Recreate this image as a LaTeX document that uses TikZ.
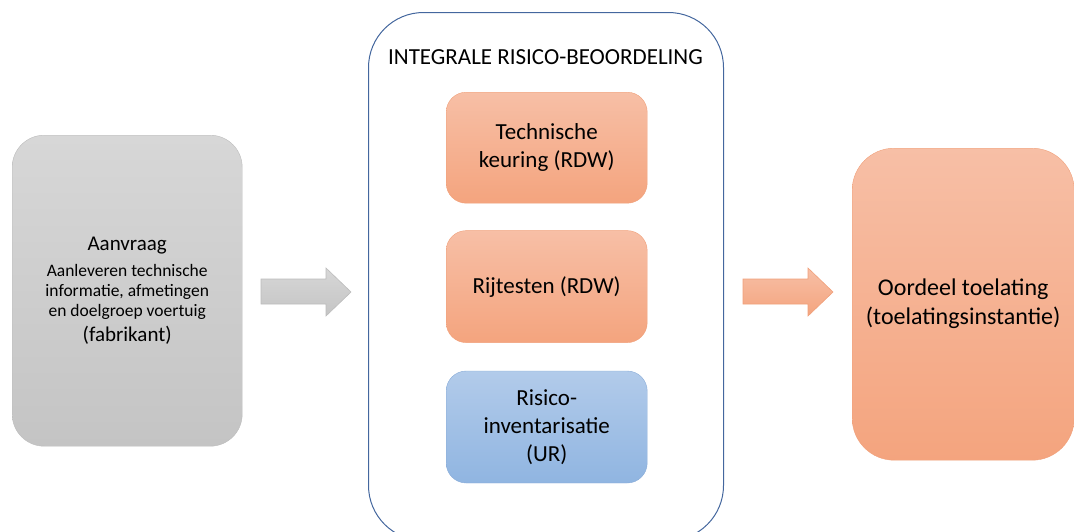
\documentclass[tikz,border=0pt]{standalone}
\usepackage{fontspec}
\setmainfont{Carlito}
\usetikzlibrary{positioning}
\definecolor{oranjeboven}{RGB}{247,191,166}
\definecolor{oranjeonder}{RGB}{244,164,126}
\definecolor{oranjerand}{RGB}{240,160,122}
\definecolor{blauwboven}{RGB}{178,203,234}
\definecolor{blauwonder}{RGB}{144,181,225}
\definecolor{blauwrand}{RGB}{138,172,216}
\definecolor{grijsboven}{RGB}{215,215,215}
\definecolor{grijsonder}{RGB}{196,196,196}
\definecolor{grijsrand}{RGB}{188,188,188}
\definecolor{kaderrand}{RGB}{68,103,158}

\begin{document}
\begin{tikzpicture}[x=1pt,y=-1pt,
  oranjeblok/.style={draw=oranjerand, top color=oranjeboven, bottom color=oranjeonder, rounded corners=20pt, minimum width=201pt, minimum height=112pt, align=center, font=\fontsize{23}{28}\selectfont},
  blauwblok/.style={oranjeblok, draw=blauwrand, top color=blauwboven, bottom color=blauwonder},
  pijl/.style={draw=#1rand, top color=#1boven, bottom color=#1onder, line width=0.6pt}]
\useasboundingbox (0,0) rectangle (1074,531);
\clip (0,0) rectangle (1074,531);
\node[draw=grijsrand, top color=grijsboven, bottom color=grijsonder, rounded corners=32pt, minimum width=230pt, minimum height=311pt, anchor=north west, align=center, font=\fontsize{17.5}{20}\selectfont] (aanvraag) at (12,135) {{\fontsize{21}{25}\selectfont Aanvraag}\\[6pt]Aanleveren technische\\informatie, afmetingen\\en doelgroep voertuig\\[5pt]{\fontsize{21}{25}\selectfont (fabrikant)}};
\node[draw=kaderrand, line width=1pt, rounded corners=55pt, minimum width=355pt, minimum height=528pt, anchor=north west] (kader) at (368,12) {};
\node[font=\fontsize{23}{27}\selectfont] (titel) at (545.5,57) {INTEGRALE RISICO-BEOORDELING};
\node[oranjeblok, minimum height=111pt, anchor=north west] (keuring) at (446,92) {Technische\\keuring (RDW)};
\node[oranjeblok, below=27pt of keuring] (rijtesten) {Rijtesten (RDW)};
\node[blauwblok, below=28pt of rijtesten] (risico) {Risico-\\inventarisatie\\(UR)};
\node[draw=oranjerand, top color=oranjeboven, bottom color=oranjeonder, rounded corners=42pt, minimum width=222pt, minimum height=312pt, anchor=north west, align=center, font=\fontsize{24}{29}\selectfont] (oordeel) at (852,148) {Oordeel toelating\\(toelatingsinstantie)};
\draw[pijl=grijs] (261,279) -- (326,279) -- (326,268) -- (351,292) -- (326,316) -- (326,304) -- (261,304) -- cycle;
\draw[pijl=oranje] (743,279) -- (808,279) -- (808,268) -- (833,292) -- (808,316) -- (808,304) -- (743,304) -- cycle;
\end{tikzpicture}
\end{document}
